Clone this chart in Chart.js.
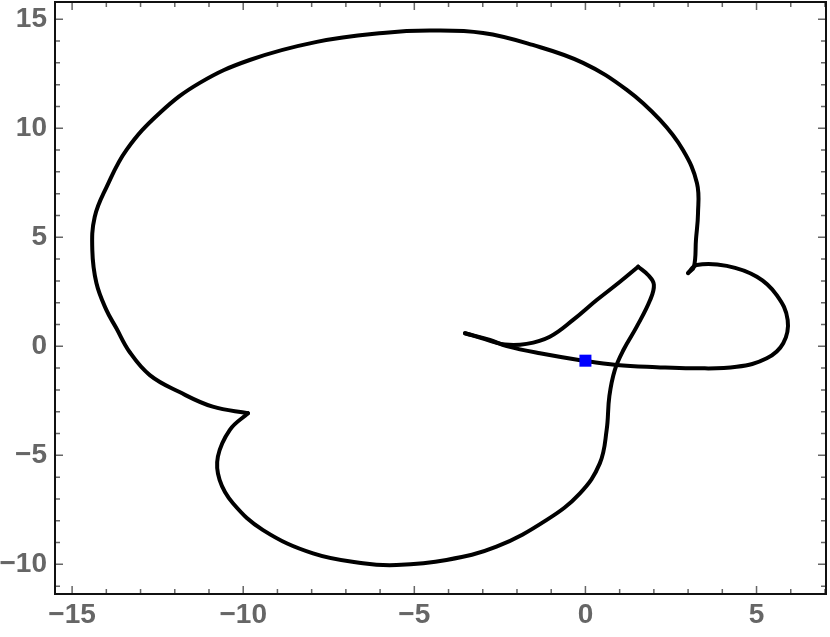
<!DOCTYPE html>
<html>
<head>
<meta charset="utf-8">
<script src="https://cdn.jsdelivr.net/npm/chart.js@4.4.1/dist/chart.umd.min.js"></script>
<style>
  html, body { margin: 0; padding: 0; background: #fff; }
  #wrap { width: 830px; height: 637px; }
</style>
</head>
<body>
<div id="wrap"><canvas id="myChart" width="830" height="637"></canvas></div>
<script>
// curve pieces, split at the sharp corners so they stay sharp
const rightLoop = [
  [3.00, 3.36], [3.25, 3.73], [4.13, 3.69], [5.01, 3.19], [5.59, 2.35], [5.91, 1.21],
  [5.78, 0.14], [5.30, -0.55], [4.42, -0.94], [3.15, -1.01], [2.08, -0.96], [0.91, -0.86],
  [-0.06, -0.66], [-1.33, -0.32], [-2.30, 0.01], [-2.79, 0.29], [-3.52, 0.60]
];
const innerRise = [
  [-3.52, 0.60], [-2.94, 0.33], [-2.35, 0.08], [-1.72, 0.11], [-1.04, 0.44], [-0.36, 1.21],
  [0.33, 2.12], [1.01, 2.96], [1.54, 3.65]
];
const lowerLoop = [
  [1.54, 3.65], [1.83, 3.27], [2.00, 2.83], [1.89, 2.12], [1.50, 0.90], [1.11, -0.17],
  [0.86, -1.08], [0.70, -2.28], [0.62, -3.84], [0.42, -5.37], [-0.16, -6.74], [-1.13, -7.96],
  [-2.60, -9.19], [-4.06, -9.80], [-5.52, -10.03], [-6.50, -9.95], [-7.96, -9.50], [-9.42, -8.43],
  [-10.30, -7.20], [-10.69, -6.13], [-10.74, -5.06], [-10.39, -3.83], [-9.86, -3.07]
];
const upperLoop = [
  [-9.86, -3.07], [-10.89, -2.77], [-11.86, -2.10], [-12.73, -1.32], [-13.32, -0.26],
  [-13.71, 0.84], [-14.00, 1.67], [-14.29, 2.90], [-14.41, 4.42], [-14.34, 5.93], [-13.99, 7.31],
  [-13.41, 9.01], [-12.44, 10.70], [-11.27, 12.08], [-9.81, 13.13], [-7.85, 13.96], [-5.92, 14.37],
  [-4.55, 14.48], [-2.99, 14.37], [-1.54, 13.82], [-0.07, 13.00], [1.21, 11.76], [2.18, 10.38],
  [2.85, 9.00], [3.26, 7.48], [3.29, 6.10], [3.23, 4.88], [3.17, 3.64], [3.00, 3.36]
];
const marker = [[0, -0.66]];

const xTicks = [-15, -10, -5, 0, 5];
const yTicks = [-10, -5, 0, 5, 10, 15];
const xRange = [-15.5, 7.03];
const yRange = [-11.36, 15.79];

const toPts = arr => arr.map(p => ({ x: p[0], y: p[1] }));
const minus = v => String(v).replace('-', '\u2212');

function curve(points) {
  return {
    data: toPts(points),
    borderColor: '#000',
    borderWidth: 4,
    borderCapStyle: 'round',
    borderJoinStyle: 'round',
    pointRadius: 0,
    tension: 0.4,
    cubicInterpolationMode: 'default',
    fill: false
  };
}

// Mathematica style frame with inward ticks on all four sides
const framePlugin = {
  id: 'frame',
  afterDatasetsDraw(chart) {
    const { ctx, chartArea: a, scales: { x, y } } = chart;
    ctx.save();
    ctx.strokeStyle = '#666';
    ctx.lineWidth = 1.5;
    ctx.beginPath();
    for (let v = Math.ceil(x.min); v <= x.max; v++) {
      const px = x.getPixelForValue(v);
      const len = v % 5 === 0 ? 8 : 5;
      ctx.moveTo(px, a.bottom); ctx.lineTo(px, a.bottom - len);
      ctx.moveTo(px, a.top); ctx.lineTo(px, a.top + len);
    }
    for (let v = Math.ceil(y.min); v <= y.max; v++) {
      const py = y.getPixelForValue(v);
      const len = v % 5 === 0 ? 8 : 5;
      ctx.moveTo(a.left, py); ctx.lineTo(a.left + len, py);
      ctx.moveTo(a.right, py); ctx.lineTo(a.right - len, py);
    }
    ctx.stroke();
    ctx.strokeStyle = '#111';
    ctx.lineWidth = 2;
    ctx.strokeRect(a.left, a.top, a.right - a.left, a.bottom - a.top);
    ctx.restore();
  }
};

const tickFont = { family: "'Liberation Sans', Arial, sans-serif", size: 28, weight: 'bold' };

const ctx = document.getElementById('myChart').getContext('2d');
new Chart(ctx, {
  type: 'line',
  data: {
    datasets: [
      {
        data: toPts(marker),
        showLine: false,
        pointStyle: 'rect',
        pointRadius: 8.5,
        backgroundColor: '#0000ff',
        borderWidth: 0
      },
      curve(rightLoop),
      curve(innerRise),
      curve(lowerLoop),
      curve(upperLoop)
    ]
  },
  options: {
    responsive: false,
    animation: false,
    layout: { autoPadding: false, padding: { top: 2, right: 4, left: 0, bottom: 0 } },
    plugins: { legend: { display: false }, tooltip: { enabled: false } },
    scales: {
      x: {
        type: 'linear',
        min: xRange[0],
        max: xRange[1],
        grid: { display: false, drawTicks: false },
        border: { display: false },
        afterBuildTicks: s => { s.ticks = xTicks.map(v => ({ value: v })); },
        afterFit: s => { s.height = 43; s.paddingLeft = 0; s.paddingRight = 0; },
        ticks: { color: '#666', font: tickFont, padding: 4, maxRotation: 0, callback: v => minus(v) }
      },
      y: {
        type: 'linear',
        min: yRange[0],
        max: yRange[1],
        grid: { display: false, drawTicks: false },
        border: { display: false },
        afterBuildTicks: s => { s.ticks = yTicks.map(v => ({ value: v })); },
        afterFit: s => { s.width = 55; s.paddingTop = 0; s.paddingBottom = 0; },
        ticks: { color: '#666', font: tickFont, padding: 8, callback: v => minus(v) }
      }
    }
  },
  plugins: [framePlugin]
});
</script>
</body>
</html>
